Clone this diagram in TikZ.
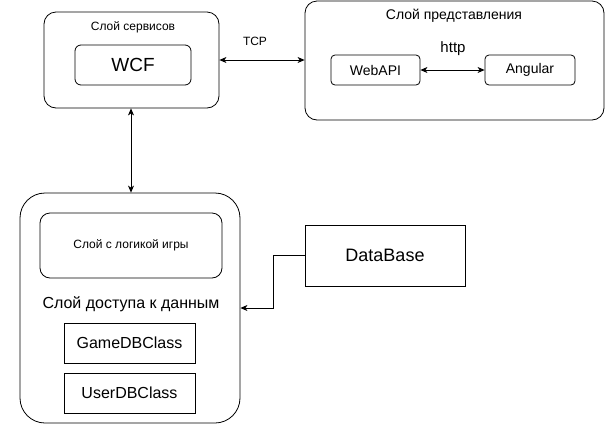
\documentclass[tikz,border=0pt]{standalone}
\usepackage{fontspec}
\setmainfont{Liberation Sans}
\usepackage{tikz}
\usetikzlibrary{arrows,arrows.meta,positioning}

\newcommand{\fsz}[1]{\fontsize{#1}{#1}\selectfont}

\tikzset{
  layerbox/.style={draw, rounded corners=12pt, line width=0.8pt, inner sep=0pt},
  partbox/.style={draw, rounded corners=6pt, line width=0.8pt, inner sep=0pt},
  classbox/.style={draw, line width=0.8pt, inner sep=0pt},
  tip/.tip={Stealth[length=7pt, width=6pt, inset=2pt]},
  link/.style={line width=0.8pt, tip-tip},
}

\begin{document}
\begin{tikzpicture}[x=1pt, y=-1pt]

    \useasboundingbox (0,0) rectangle (606,424);

    % services
    \node[layerbox, minimum width=175pt, minimum height=96pt] (serv) at (131.5,60) {};
    \node[font=\fsz{12}] (servtitle) at (133,27) {Слой сервисов};
    \node[partbox, minimum width=116pt, minimum height=40pt, font=\fsz{19}] (wcf) at (133,65) {WCF};

    % presentation
    \node[layerbox, minimum width=299pt, minimum height=119pt] (pres) at (454.5,60.5) {};
    \node[font=\fsz{14}] (prestitle) at (454,16) {Слой представления};
    \node[partbox, rounded corners=4pt, minimum width=89pt, minimum height=30pt, font=\fsz{14}] (webapi) at (375.5,70) {WebAPI};
    \node[partbox, rounded corners=4pt, minimum width=90pt, minimum height=30pt, font=\fsz{14}] (angular) at (530,70) {Angular};
    \node[font=\fsz{15}] (http) at (453,49) {http};
    \draw[link] (webapi) -- (angular);

    % TCP
    \draw[link] (serv.east |- 0,60) -- (pres.west |- 0,60);
    \node[font=\fsz{12}] (tcp) at (255,41) {TCP};

    % data access
    \node[layerbox, rounded corners=25pt, minimum width=220pt, minimum height=230pt] (data) at (130,308) {};
    \node[partbox, rounded corners=10pt, minimum width=182pt, minimum height=65pt, font=\fsz{12}] (logic) at (131,245.5) {Слой с логикой игры};
    \node[font=\fsz{16}] (datatitle) at (131,304) {Слой доступа к данным};
    \node[classbox, minimum width=131pt, minimum height=40pt, font=\fsz{16}] (gamedb) at (129.5,343) {GameDBClass};
    \node[classbox, minimum width=131pt, minimum height=40pt, font=\fsz{16}] (userdb) at (129.5,393) {UserDBClass};

    \draw[link] (serv.south -| 131,0) -- (data.north -| 131,0);

    % database
    \node[classbox, minimum width=160pt, minimum height=61pt, font=\fsz{18}] (db) at (385,255.5) {DataBase};
    \coordinate (bend) at (273,308);
    \draw[line width=0.8pt, -tip] (db.west) -| (bend) -- (data.east |- bend);

\end{tikzpicture}
\end{document}
